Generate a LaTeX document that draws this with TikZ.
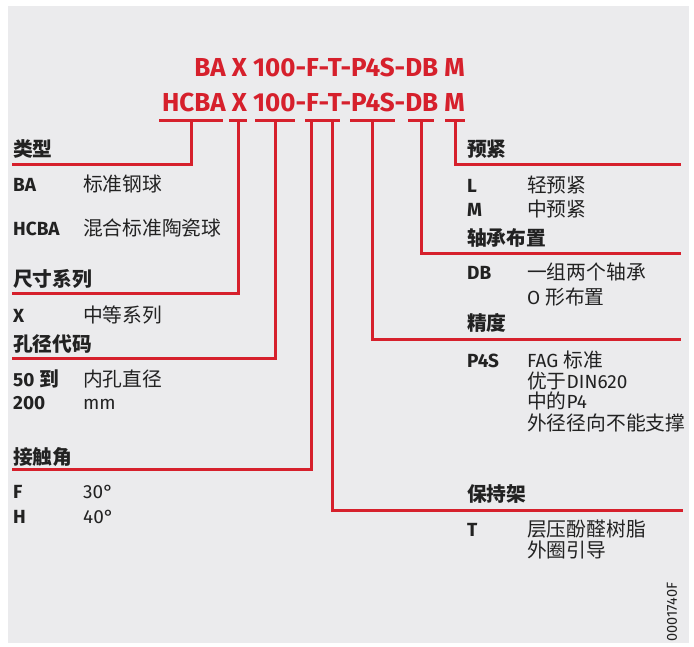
\documentclass[tikz,border=0pt]{standalone}
\usepackage{fontspec}
\setmainfont{Fira Sans}
\newfontfamily\cjk{Noto Sans CJK SC}[Scale=1.04]
\definecolor{fagred}{RGB}{214,32,44}
\definecolor{panel}{RGB}{235,235,237}
\definecolor{ink}{RGB}{34,34,34}

\begin{document}
\begin{tikzpicture}[x=1pt,y=-1pt]
\tikzstyle{every node}=[inner sep=0pt,anchor=base west,text=ink,font=\fontsize{19}{21}\selectfont]
\tikzstyle{code}=[anchor=base east,text=fagred,font=\fontsize{26}{30}\selectfont\bfseries]
\tikzstyle{head}=[font=\fontsize{19}{21}\selectfont\cjk\bfseries]
\tikzstyle{key}=[font=\fontsize{19}{21}\selectfont\bfseries]
\tikzstyle{bar}=[anchor=center,fill=fagred,minimum height=3pt]
\tikzstyle{redline}=[draw=fagred,line width=3pt]

\fill[panel] (8,6) rectangle (689,643);
\useasboundingbox (0,0) rectangle (694,646);

% designation
\node[code] (codeBA) at (465,76) {BA X 100-F-T-P4S-DB M};
\node[code] (codeHCBA) at (465,111) {HCBA X 100-F-T-P4S-DB M};

% underlines
\node[bar,minimum width=64pt] (barHCBA) at (191,120) {};
\node[bar,minimum width=18pt] (barX) at (238,120) {};
\node[bar,minimum width=40pt] (barBore) at (275,120) {};
\node[bar,minimum width=35pt] (barFT) at (322.5,120) {};
\node[bar,minimum width=45pt] (barP4S) at (372,120) {};
\node[bar,minimum width=26pt] (barDB) at (421,120) {};
\node[bar,minimum width=20pt] (barM) at (455,120) {};

% line ends
\coordinate (endType) at (12,164);
\coordinate (endSeries) at (12,293);
\coordinate (endBore) at (12,358);
\coordinate (endAngle) at (12,469);
\coordinate (endCage) at (683,510);
\coordinate (endPrec) at (681,339);
\coordinate (endArr) at (681,253);
\coordinate (endPre) at (681,164);

\draw[redline] (barHCBA.center) |- (endType);
\draw[redline] (barX.center) |- (endSeries);
\draw[redline] (barBore.center) |- (endBore);
\draw[redline] ([xshift=7pt]barFT.west) |- (endAngle);
\draw[redline] ([xshift=-8pt]barFT.east) |- (endCage);
\draw[redline] (barP4S.center) |- (endPrec);
\draw[redline] (barDB.center) |- (endArr);
\draw[redline] (barM.center) |- (endPre);

% left column
\node[head] (hType) at (13,156) {类型};
\node[key] (kBA) at (13,191) {BA};
\node (vBA) at (83,191) {\cjk 标准钢球};
\node[key] (kHCBA) at (13,235) {HCBA};
\node (vHCBA) at (83,235) {\cjk 混合标准陶瓷球};

\node[head] (hSeries) at (13,286) {尺寸系列};
\node[key] (kX) at (13,322) {X};
\node (vX) at (83,322) {\cjk 中等系列};

\node[head] (hBore) at (13,351) {孔径代码};
\node[key] (k50) at (13,386) {50 {\cjk 到}};
\node (v50) at (83,386) {\cjk 内孔直径};
\node[key] (k200) at (13,409) {200};
\node (v200) at (83,409) {mm};

\node[head] (hAngle) at (13,464) {接触角};
\node[key] (kF) at (13,498) {F};
\node (vF) at (83,498) {30°};
\node[key] (kH) at (13,523) {H};
\node (vH) at (83,523) {40°};

% right column
\node[head] (hPre) at (467,156) {预紧};
\node[key] (kL) at (467,192) {L};
\node (vL) at (527,192) {\cjk 轻预紧};
\node[key] (kM) at (467,216) {M};
\node (vM) at (527,216) {\cjk 中预紧};

\node[head] (hArr) at (467,245) {轴承布置};
\node[key] (kDB) at (467,279) {DB};
\node (vDB) at (527,279) {\cjk 一组两个轴承};
\node (vDB2) at (527,304) {O {\cjk 形布置}};

\node[head] (hPrec) at (467,330) {精度};
\node[key] (kP4S) at (467,367) {P4S};
\node (vP4S) at (527,367) {FAG {\cjk 标准}};
\node (vP4S2) at (527,388) {{\cjk 优于}DIN620};
\node (vP4S3) at (527,408.5) {{\cjk 中的}P4};
\node (vP4S4) at (527,430) {\cjk 外径径向不能支撑};

\node[head] (hCage) at (467,501) {保持架};
\node[key] (kT) at (467,536) {T};
\node (vT) at (527,536) {\cjk 层压酚醛树脂};
\node (vT2) at (527,557) {\cjk 外圈引导};

\node[anchor=center,rotate=90,font=\fontsize{14.5}{16}\selectfont] (figNo) at (672,612) {0001740F};
\end{tikzpicture}
\end{document}
